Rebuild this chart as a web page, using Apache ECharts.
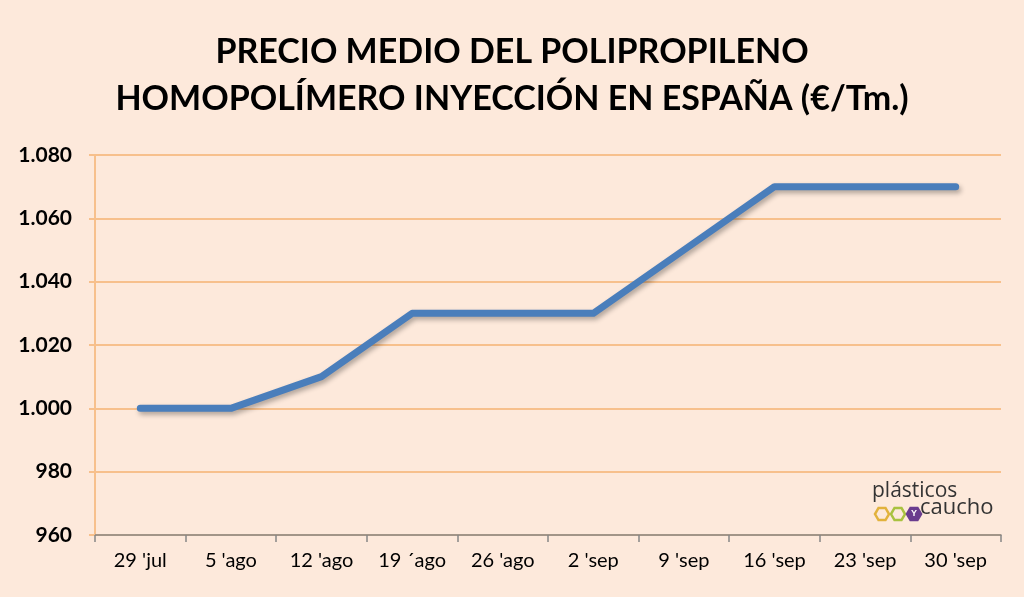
<!DOCTYPE html>
<html>
<head>
<meta charset="utf-8">
<script src="https://cdn.jsdelivr.net/npm/echarts@6/dist/echarts.min.js"></script>
<style>
html,body{margin:0;padding:0;background:#fde9db;}
#main{width:1024px;height:597px;}
</style>
</head>
<body>
<div id="main"></div>
<script>
// fechas semanales
var semanas = ["29 'jul", "5 'ago", "12 'ago", "19 \u00B4ago", "26 'ago", "2 'sep", "9 'sep", "16 'sep", "23 'sep", "30 'sep"];
// precio medio €/Tm
var precios = [1000, 1000, 1010, 1030, 1030, 1030, 1050, 1070, 1070, 1070];
var ejeMin = 960, ejeMax = 1080, ejePaso = 20;

var myChart = echarts.init(document.getElementById('main'));

function hexa(cx, cy, r, color, fill){
  var pts = [];
  for (var i = 0; i < 6; i++) {
    var a = Math.PI / 3 * i;
    pts.push([cx + r * Math.cos(a), cy + r * Math.sin(a)]);
  }
  return {
    type: 'polygon',
    shape: {points: pts},
    style: {fill: fill || 'none', stroke: color, lineWidth: 2.5}
  };
}

var option = {
  backgroundColor: '#fde9db',
  title: {
    text: 'PRECIO MEDIO DEL POLIPROPILENO\nHOMOPOLÍMERO INYECCIÓN EN ESPAÑA (€/Tm.)',
    left: 'center',
    top: 24,
    textStyle: {
      fontFamily: 'Lato',
      fontWeight: 'bold',
      fontSize: 34,
      lineHeight: 47,
      color: '#000'
    }
  },
  grid: {left: 95, right: 23, top: 155, bottom: 62, containLabel: false},
  xAxis: {
    type: 'category',
    data: semanas,
    boundaryGap: true,
    axisLine: {lineStyle: {color: '#868686', width: 1.5}},
    axisTick: {show: true, interval: 0, length: 7, lineStyle: {color: '#868686', width: 1.5}},
    axisLabel: {
      interval: 0,
      hideOverlap: false,
      fontFamily: 'Lato',
      fontSize: 20,
      color: '#000',
      margin: 16
    },
    splitLine: {show: false}
  },
  yAxis: {
    type: 'value',
    min: ejeMin,
    max: ejeMax,
    interval: ejePaso,
    axisLine: {show: true, lineStyle: {color: '#f7c08c', width: 2}},
    axisTick: {show: true, length: 6, lineStyle: {color: '#f7c08c', width: 2}},
    splitLine: {lineStyle: {color: '#f7c08c', width: 2}},
    axisLabel: {
      fontFamily: 'Lato',
      fontWeight: 'bold',
      fontSize: 21,
      color: '#000',
      margin: 23,
      formatter: function (v) {
        return v >= 1000 ? Math.floor(v / 1000) + '.' + String(v % 1000).padStart(3, '0') : String(v);
      }
    }
  },
  series: [{
    type: 'line',
    data: precios,
    symbol: 'none',
    lineStyle: {
      color: '#4a7ebb',
      width: 7,
      cap: 'round',
      join: 'round',
      shadowColor: 'rgba(0,0,0,0.3)',
      shadowBlur: 5,
      shadowOffsetX: 2,
      shadowOffsetY: 3
    },
    animation: false
  }],
  graphic: [
    {
      type: 'text',
      left: 872,
      top: 481,
      style: {text: 'plásticos', font: '21px "Open Sans"', fill: '#333'}
    },
    {
      type: 'text',
      left: 920,
      top: 497,
      style: {text: 'caucho', font: '22px "Open Sans"', fill: '#333'}
    },
    {
      type: 'group',
      children: [
        hexa(882, 514, 7, '#e2b23c'),
        hexa(898, 514, 7, '#a9c23f'),
        hexa(914, 514, 7, '#6a3c8e', '#6a3c8e'),
        {type: 'text', style: {text: 'Y', x: 914, y: 514, align: 'center', verticalAlign: 'middle', font: 'bold 9px sans-serif', fill: '#fff'}}
      ]
    }
  ]
};
myChart.setOption(option);
</script>
</body>
</html>
